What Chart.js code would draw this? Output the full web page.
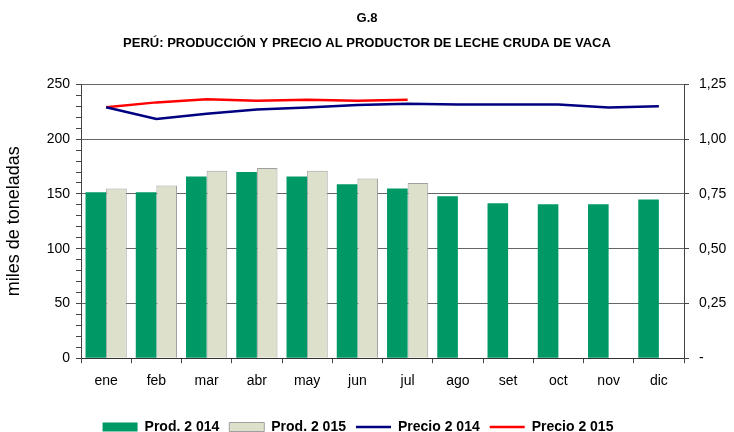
<!DOCTYPE html>
<html lang="es">
<head>
  <meta charset="UTF-8" />
  <title>G.8 Leche cruda de vaca</title>
  <script src="https://cdn.jsdelivr.net/npm/chart.js"></script>
  <style>
    html, body {
      margin: 0;
      padding: 0;
      background: #ffffff;
    }
    #wrap {
      width: 734px;
      height: 432px;
    }
  </style>
</head>
<body>

  <div id="wrap">
    <canvas id="grafico" width="734" height="432"></canvas>
  </div>

  <script>
    const meses = ['ene', 'feb', 'mar', 'abr', 'may', 'jun', 'jul', 'ago', 'set', 'oct', 'nov', 'dic'];

    // miles de toneladas
    const prod2014 = [151.5, 151.5, 166, 170, 166, 158.8, 155, 147.8, 141.4, 140.5, 140.5, 145];
    const prod2015 = [155, 157.6, 171.2, 173.6, 171.2, 164, 160, null, null, null, null, null];

    // soles por kg
    const precio2014 = [1.146, 1.092, 1.116, 1.135, 1.145, 1.156, 1.162, 1.158, 1.158, 1.158, 1.145, 1.150];
    const precio2015 = [1.146, 1.168, 1.182, 1.176, 1.180, 1.176, 1.180, null, null, null, null, null];

    const titulo = ['G.8', 'PERÚ: PRODUCCIÓN Y PRECIO AL PRODUCTOR DE LECHE CRUDA DE VACA'];

    Chart.defaults.font.family = '"Liberation Sans", Arial, sans-serif';
    Chart.defaults.color = '#000';

    // the legend in the original sits a little left of centre
    const moverLeyenda = {
      id: 'moverLeyenda',
      afterLayout(chart) {
        const lg = chart.legend;
        if (!lg) return;
        lg.left -= 9;
        lg.right -= 9;
        lg.adjustHitBoxes();
      }
    };

    const ctx = document.getElementById('grafico').getContext('2d');

    new Chart(ctx, {
      type: 'bar',
      data: {
        labels: meses,
        datasets: [
          {
            label: 'Prod. 2 014',
            data: prod2014,
            backgroundColor: '#009966',
            borderColor: '#009966',
            borderWidth: 0,
            yAxisID: 'y',
            categoryPercentage: 0.82,
            barPercentage: 1.0
          },
          {
            label: 'Prod. 2 015',
            data: prod2015,
            backgroundColor: '#dde0cb',
            borderColor: '#a0a0a0',
            borderWidth: 1,
            yAxisID: 'y',
            categoryPercentage: 0.82,
            barPercentage: 1.0
          },
          {
            type: 'line',
            label: 'Precio 2 014',
            data: precio2014,
            borderColor: '#000080',
            backgroundColor: '#000080',
            borderWidth: 2.5,
            pointRadius: 0,
            tension: 0,
            yAxisID: 'y2'
          },
          {
            type: 'line',
            label: 'Precio 2 015',
            data: precio2015,
            borderColor: '#ff0000',
            backgroundColor: '#ff0000',
            borderWidth: 2.5,
            pointRadius: 0,
            tension: 0,
            yAxisID: 'y2'
          }
        ]
      },
      options: {
        responsive: false,
        animation: false,
        layout: { padding: { left: 0, right: 0, top: 0, bottom: -12 } },
        plugins: {
          title: {
            display: true,
            text: titulo,
            font: { size: 13, weight: 'bold', lineHeight: 1.92 },
            padding: { top: 5.5, bottom: 29 }
          },
          legend: {
            position: 'bottom',
            labels: {
              usePointStyle: true,
              pointStyleWidth: 35,
              boxHeight: 9,
              padding: 10,
              font: { size: 14, weight: 'bold' },
              generateLabels(chart) {
                const items = Chart.defaults.plugins.legend.labels.generateLabels(chart);
                items.forEach(it => {
                  const ds = chart.data.datasets[it.datasetIndex];
                  it.pointStyle = ds.type === 'line' ? 'line' : 'rect';
                  if (ds.type !== 'line') {
                    it.fillStyle = ds.backgroundColor;
                    it.strokeStyle = ds.borderColor;
                    it.lineWidth = ds.borderWidth;
                  }
                });
                return items;
              }
            }
          },
          tooltip: { enabled: false }
        },
        scales: {
          x: {
            offset: true,
            afterFit(scale) { scale.height += 10; },
            grid: {
              offset: true,
              drawOnChartArea: false,
              tickLength: 5,
              tickColor: '#444'
            },
            border: { color: '#333', width: 1 },
            ticks: { font: { size: 14 }, padding: 10 }
          },
          y: {
            position: 'left',
            min: 0,
            max: 250,
            afterFit(scale) { scale.width = 81; },
            ticks: {
              stepSize: 10,
              autoSkip: false,
              font: { size: 14 },
              padding: 6,
              callback: v => (v % 50 === 0 ? String(v) : '')
            },
            grid: {
              color: c => (c.tick && c.tick.value % 50 === 0 ? '#666' : 'rgba(0,0,0,0)'),
              tickColor: '#444',
              tickLength: 5
            },
            border: { color: '#444', width: 1 },
            title: {
              display: true,
              text: 'miles de toneladas',
              font: { size: 18 },
              padding: { top: 3, bottom: 0 }
            }
          },
          y2: {
            position: 'right',
            min: 0,
            max: 1.25,
            afterFit(scale) { scale.width = 50; },
            ticks: {
              stepSize: 0.25,
              font: { size: 14 },
              padding: 10,
              callback: v => (v === 0 ? '-' : v.toFixed(2).replace('.', ','))
            },
            grid: {
              drawOnChartArea: false,
              tickColor: '#444',
              tickLength: 5
            },
            border: { color: '#444', width: 1 }
          }
        }
      },
      plugins: [moverLeyenda]
    });
  </script>

</body>
</html>
